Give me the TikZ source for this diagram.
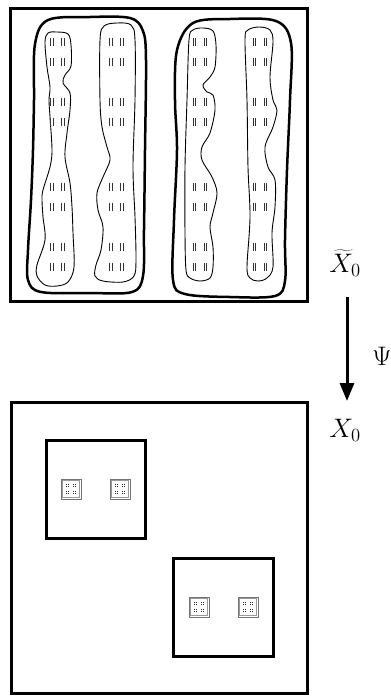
\documentclass[tikz,border=0pt]{standalone}
\usepackage{graphicx}
\usetikzlibrary{arrows.meta}
\newcommand{\lblmath}[1]{\scalebox{1.29}{\huge$#1$}}
\begin{document}
\begin{tikzpicture}[x=1pt,y=-1pt,
  frame/.style={line width=3pt},
  blobout/.style={line width=2.5pt},
  blobin/.style={line width=0.9pt},
  lbl/.style={inner sep=0pt},
  tk/.style={line width=1.1pt,black!80},
  sq/.style={draw=black!55,line width=0.8pt,fill=white},
  dot/.style={fill=black!85},
  ticks/.pic={
    \draw[tk] (-6.8,-4) -- (-6.8,4); \draw[tk] (-4.2,-4) -- (-4.2,4);
    \draw[tk] (4.2,-4) -- (4.2,4); \draw[tk] (6.8,-4) -- (6.8,4);
  },
  grp/.pic={
    \foreach \i in {-1,1}{\foreach \j in {-1,1}{
      \fill[dot] (\i*1.1-0.6,\j*1.1-0.6) rectangle ++(1.2,1.2);}}
  },
  cell/.pic={
    \draw[sq] (-10,-10) rectangle (10,10);
    \draw[black!40,line width=0.5pt] (-8.3,-8.3) rectangle (8.3,8.3);
    \foreach \a in {-3.4,3.4}{\foreach \b in {-3.4,3.4}{
      \pic at (\a,\b) {grp};}}
  }]
\useasboundingbox (0,0) rectangle (391,697);

% top frame
\draw[frame] (10,8) rectangle (307,301);

% outer blobs
\draw[blobout] plot[smooth cycle,tension=0.55] coordinates {
 (90,17) (130,18) (143,31) (146,60) (145,150) (144,230) (143,276) (132,292)
 (90,293) (41,292) (28,280) (28,250) (31,200) (33,150) (34,100) (35,44) (48,20)};
\draw[blobout] plot[smooth cycle,tension=0.55] coordinates {
 (230,19) (276,21) (291,43) (290,100) (287,170) (285,240) (285,281) (275,296)
 (230,297) (185,294) (173,280) (174,220) (177,150) (175,100) (177,50) (193,23)};

% inner blobs
\draw[blobin] plot[smooth cycle,tension=0.55] coordinates {
 (57,32) (68,34) (71,45) (71,66) (65,75) (63,83) (70,93) (70,110) (67,133)
 (65,157) (70,183) (72,207) (73,233) (74,267) (68,282) (57,286) (45,285)
 (37,276) (37,265) (45,240) (43,217) (42,200) (43,190) (50,167) (52,150)
 (50,117) (49,100) (50,87) (47,67) (45,42) (48,33)};
\draw[blobin] plot[smooth cycle,tension=0.55] coordinates {
 (117,23) (131,25) (135,40) (135,100) (133,167) (135,217) (136,260) (134,276)
 (123,282) (103,281) (95,276) (96,265) (101,250) (103,227) (98,210) (97,193)
 (103,177) (110,160) (107,147) (102,127) (100,100) (100,40) (104,26)};
\draw[blobin] plot[smooth cycle,tension=0.55] coordinates {
 (203,28) (213,31) (216,45) (215,67) (210,77) (203,85) (207,92) (213,95)
 (215,110) (210,133) (202,147) (202,160) (212,177) (217,193) (213,213)
 (210,227) (213,247) (213,267) (210,278) (200,281) (190,278) (186,270)
 (185,233) (185,167) (187,100) (189,40) (193,30)};
\draw[blobin] plot[smooth cycle,tension=0.55] coordinates {
 (259,27) (270,30) (273,42) (270,77) (273,100) (277,110) (273,127) (265,147)
 (268,167) (275,180) (275,207) (272,233) (273,267) (267,278) (258,281)
 (250,278) (247,267) (250,217) (248,167) (247,100) (245,40) (248,30)};

% tick rows
\foreach \cx in {57.5,116.5,200,260}{
  \foreach \cy in {41.7,61.7,101.7,121.7,186.7,206.7,246.7,266.7}{
    \pic at (\cx,\cy) {ticks};}}

% labels and arrow
\node[lbl] (xt) at (345,263) {\lblmath{\widetilde{X}_0}};
\node[lbl] (x0) at (345,430) {\lblmath{X_0}};
\coordinate (a1) at (347,297);
\coordinate (a2) at (347,401);
\draw[line width=3pt,-{Triangle[width=14pt,length=18pt]}] (a1) -- (a2);
\node[lbl] (psi) at (382,356) {\lblmath{\Psi}};

% bottom frame
\draw[frame] (11,402) rectangle (307,693);
\draw[frame] (46,440) rectangle (145,538);
\draw[frame] (173,558) rectangle (273,656);

\pic at (71,489) {cell};
\pic at (120,489) {cell};
\pic at (199,607) {cell};
\pic at (248,607) {cell};
\end{tikzpicture}
\end{document}
